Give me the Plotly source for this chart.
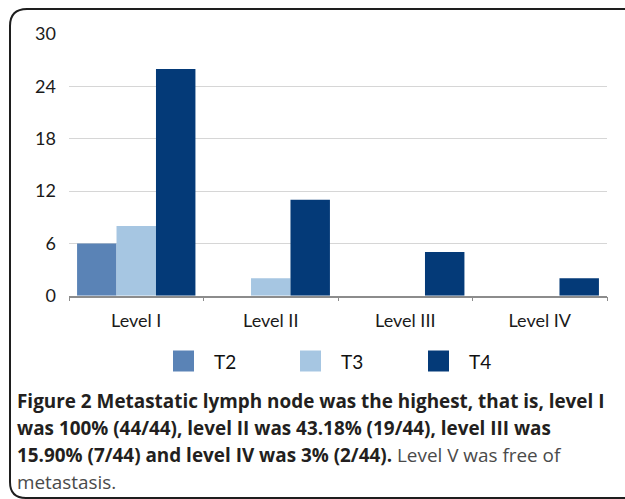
import plotly.graph_objects as go

W, H = 625, 499

categories = ["Level I", "Level II", "Level III", "Level IV"]
series_names = ["T2", "T3", "T4"]
t2_values = [6, 0, 0, 0]
t3_values = [8, 2, 0, 0]
t4_values = [26, 11, 5, 2]
y_ticks = [0, 6, 12, 18, 24, 30]
colors = ["#5a83b6", "#a6c6e2", "#043a78"]

caption_lines = [
    "<b>Figure 2</b> <b>Metastatic lymph node was the highest, that is, level I</b>",
    "<b>was 100% (44/44), level II was 43.18% (19/44), level III was</b>",
    "<b>15.90% (7/44) and level IV was 3% (2/44).</b> <span style='color:#4a4a4a'>Level V was free of</span>",
    "<span style='color:#4a4a4a'>metastasis.</span>",
]


def px(x):
    return x / W


def py(y):
    return 1 - y / H


fig = go.Figure()
for name, vals, c in zip(series_names, [t2_values, t3_values, t4_values], colors):
    fig.add_trace(go.Bar(x=categories, y=vals, name=name, marker_color=c,
                         marker_line_width=0, showlegend=False))

plot_left, plot_right, plot_top, plot_bottom = 69, 607, 33.7, 295.7

fig.update_layout(
    width=W, height=H,
    margin=dict(l=0, r=0, t=0, b=0, autoexpand=False),
    paper_bgcolor="white", plot_bgcolor="white",
    barmode="group", bargap=0.12, bargroupgap=0,
    xaxis=dict(domain=[px(plot_left), px(plot_right)], automargin=False,
               showgrid=False, showline=True, linecolor="#8c8c8c", linewidth=1.5,
               ticks="outside", tickson="boundaries", ticklen=4, tickcolor="#8c8c8c",
               tickfont=dict(family="Lato", size=18, color="#1a1a1a"),
               ticklabelstandoff=8, fixedrange=True),
    yaxis=dict(domain=[py(plot_bottom), py(plot_top)], automargin=False,
               range=[0, 30.05], tickvals=y_ticks,
               showgrid=True, gridcolor="#d6d6d6", gridwidth=1.2,
               zeroline=False, showline=False,
               tickfont=dict(family="Lato", size=18, color="#1a1a1a"),
               ticklabelstandoff=12, fixedrange=True),
    font=dict(family="Open Sans"),
)

# Rounded frame
path = (f"M {px(660)},{py(498)} L {px(26)},{py(498)} "
        f"Q {px(10)},{py(498)} {px(10)},{py(482)} L {px(10)},{py(26)} "
        f"Q {px(10)},{py(9)} {px(27)},{py(9)} L {px(660)},{py(9)}")
fig.add_shape(type="path", path=path, xref="paper", yref="paper",
              line=dict(color="#1e1e1e", width=2))

# Legend (custom, larger symbols)
legend_x = [173, 300, 428]
for name, c, lx in zip(series_names, colors, legend_x):
    fig.add_shape(type="rect", xref="paper", yref="paper",
                  x0=px(lx), x1=px(lx + 21), y0=py(371.5), y1=py(350.5),
                  fillcolor=c, line=dict(width=0))
    fig.add_annotation(x=px(lx + 39), y=py(361.5), xref="paper", yref="paper",
                       text=name, showarrow=False, xanchor="left", yanchor="middle",
                       font=dict(family="Lato", size=19, color="#111111"))

# Caption
cap_y = [401, 428, 455, 482]
for line, cy in zip(caption_lines, cap_y):
    fig.add_annotation(x=px(15), y=py(cy), xref="paper", yref="paper",
                       text=line, showarrow=False, xanchor="left", yanchor="middle",
                       align="left",
                       font=dict(family="Open Sans", size=18.9, color="#231f20"))

fig.write_html("out.html", config={"displayModeBar": False},
               post_script="document.body.style.margin='0';document.body.style.overflow='hidden';")
